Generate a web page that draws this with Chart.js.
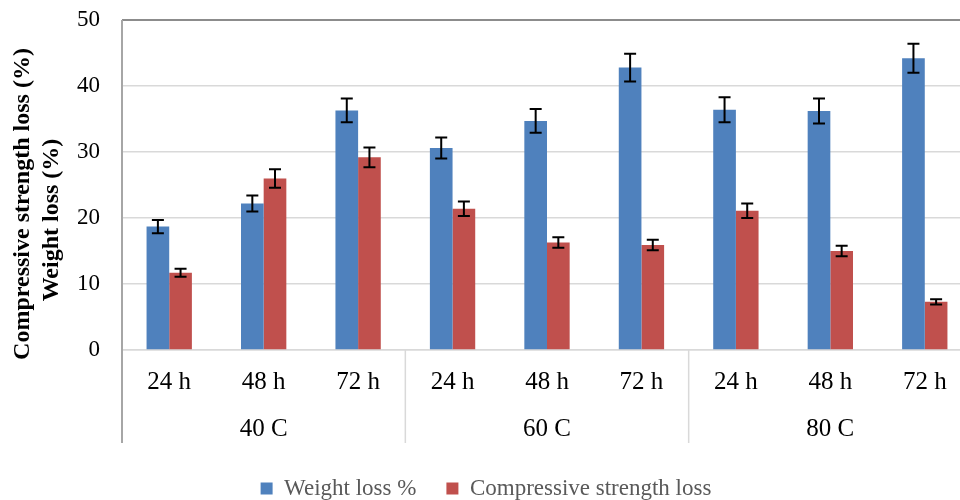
<!DOCTYPE html>
<html>
<head>
<meta charset="utf-8">
<script src="https://cdn.jsdelivr.net/npm/chart.js@4.4.0/dist/chart.umd.min.js"></script>
<style>
  html, body { margin: 0; padding: 0; background: #fff; overflow: hidden; }
  #wrap { width: 960px; height: 500px; overflow: hidden; }
</style>
</head>
<body>
<div id="wrap"><canvas id="chart" width="980" height="510"></canvas></div>
<script>
// chart data
const hours = ['24 h', '48 h', '72 h', '24 h', '48 h', '72 h', '24 h', '48 h', '72 h'];
const temps = ['40 C', '60 C', '80 C'];
const weightLoss = [18.7, 22.2, 36.3, 30.6, 34.7, 42.8, 36.4, 36.2, 44.2];
const weightErr = [1.0, 1.2, 1.8, 1.6, 1.8, 2.1, 1.9, 1.9, 2.2];
const strengthLoss = [11.7, 26.0, 29.2, 21.4, 16.3, 15.9, 21.1, 15.0, 7.3];
const strengthErr = [0.6, 1.4, 1.5, 1.1, 0.8, 0.8, 1.1, 0.8, 0.4];
const yTicks = [0, 10, 20, 30, 40, 50];

const serif = "'Liberation Serif', 'Times New Roman', serif";

// error bars, group labels, separators and y title
const extras = {
    id: 'extras',
    afterDatasetsDraw(chart) {
        const ctx = chart.ctx;
        const y = chart.scales.y;
        const errs = [weightErr, strengthErr];
        ctx.save();
        ctx.strokeStyle = '#000';
        ctx.lineWidth = 2;
        chart.data.datasets.forEach((ds, di) => {
            chart.getDatasetMeta(di).data.forEach((bar, i) => {
                const hi = y.getPixelForValue(ds.data[i] + errs[di][i]);
                const lo = y.getPixelForValue(ds.data[i] - errs[di][i]);
                ctx.beginPath();
                ctx.moveTo(bar.x, hi); ctx.lineTo(bar.x, lo);
                ctx.moveTo(bar.x - 6, hi); ctx.lineTo(bar.x + 6, hi);
                ctx.moveTo(bar.x - 6, lo); ctx.lineTo(bar.x + 6, lo);
                ctx.stroke();
            });
        });
        ctx.restore();
    },
    afterDraw(chart) {
        const ctx = chart.ctx;
        const x = chart.scales.x;
        const area = chart.chartArea;
        const bottom = 443;
        ctx.save();
        // plot frame (top + left)
        ctx.strokeStyle = '#8c8c8c';
        ctx.lineWidth = 2;
        ctx.beginPath();
        ctx.moveTo(area.left, area.top); ctx.lineTo(area.right, area.top);
        ctx.stroke();
        ctx.strokeStyle = '#a6a6a6';
        ctx.beginPath();
        ctx.moveTo(area.left, area.top); ctx.lineTo(area.left, bottom);
        ctx.stroke();
        // group separators below the axis
        ctx.strokeStyle = '#d9d9d9';
        ctx.lineWidth = 1.5;
        for (let g = 1; g <= temps.length; g++) {
            const i = g * 3;
            const px = i < hours.length
                ? (x.getPixelForValue(i - 1) + x.getPixelForValue(i)) / 2
                : area.right;
            ctx.beginPath();
            ctx.moveTo(px, area.bottom); ctx.lineTo(px, bottom);
            ctx.stroke();
        }
        // group labels
        ctx.fillStyle = '#000';
        ctx.font = '25px ' + serif;
        ctx.textAlign = 'center';
        ctx.textBaseline = 'middle';
        temps.forEach((t, g) => {
            const cx = x.getPixelForValue(g * 3 + 1);
            ctx.fillText(t, cx, 429);
        });
        // y axis title (two lines)
        ctx.font = 'bold 24px ' + serif;
        ctx.translate(23, 204);
        ctx.rotate(-Math.PI / 2);
        ctx.fillText('Compressive strength loss (%)', 0, 0);
        ctx.rotate(Math.PI / 2);
        ctx.translate(29, 16);
        ctx.rotate(-Math.PI / 2);
        ctx.fillText('Weight loss (%)', 0, 0);
        ctx.restore();
    }
};

new Chart(document.getElementById('chart'), {
    type: 'bar',
    data: {
        labels: hours,
        datasets: [{
            label: 'Weight loss %',
            data: weightLoss,
            backgroundColor: '#4f81bd',
            categoryPercentage: 0.48,
            barPercentage: 1.0
        }, {
            label: 'Compressive strength loss',
            data: strengthLoss,
            backgroundColor: '#c0504d',
            categoryPercentage: 0.48,
            barPercentage: 1.0
        }]
    },
    options: {
        responsive: false,
        animation: false,
        layout: { padding: { left: 0, right: 8, top: 20, bottom: 0 } },
        plugins: {
            tooltip: { enabled: false },
            legend: {
                position: 'bottom',
                labels: {
                    color: '#595959',
                    font: { family: serif, size: 23 },
                    boxWidth: 12,
                    boxHeight: 12,
                    padding: 30
                }
            }
        },
        scales: {
            x: {
                grid: { display: false, drawTicks: false },
                border: { color: '#d9d9d9', width: 1.5 },
                ticks: {
                    color: '#000',
                    font: { family: serif, size: 25 },
                    padding: 17,
                    maxRotation: 0,
                    autoSkip: false
                },
                afterFit(scale) { scale.height = 97; }
            },
            y: {
                min: 0,
                max: 50,
                afterBuildTicks(scale) { scale.ticks = yTicks.map(v => ({ value: v })); },
                grid: {
                    color: '#d9d9d9',
                    lineWidth: 1.5,
                    drawTicks: true,
                    tickLength: 22,
                    tickColor: 'rgba(0,0,0,0)'
                },
                border: { display: false },
                ticks: {
                    color: '#000',
                    font: { family: serif, size: 23 },
                    padding: 0
                },
                afterFit(scale) { scale.width = 122; }
            }
        }
    },
    plugins: [extras]
});
</script>
</body>
</html>
